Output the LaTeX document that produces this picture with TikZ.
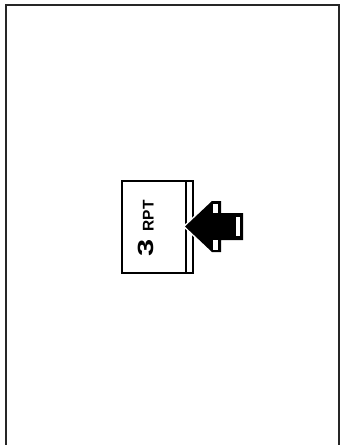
\documentclass[tikz,border=0pt]{standalone}
\usepackage{fontspec}
\setmainfont{Liberation Sans}
\begin{document}
\begin{tikzpicture}[x=1pt,y=1pt,
  frame/.style={draw=black!85,line width=1.6pt},
  panel/.style={draw=black,line width=1.3pt},
  arrowfill/.style={fill=black,draw=white,line width=3pt,line join=miter},
  slot/.style={fill=white,draw=none}]
\useasboundingbox (0,0) rectangle (340,-445);
% outer frame (open at bottom)
\draw[frame] (6,-445) -- (6,-5) -- (339,-5) -- (339,-445);
% panel
\node[panel,minimum width=71pt,minimum height=92pt,inner sep=0pt] (box) at (157.5,-227) {};
\coordinate (itop) at (186,-181);
\coordinate (ibot) at (186,-273);
\draw[panel,line width=1.1pt] (itop) -- (ibot);
% label
\node[rotate=90,inner sep=0pt,font=\bfseries] (lbl) at (146,-228.5)
  {\scalebox{1.4}[1]{\fontsize{22}{22}\selectfont 3}\hspace{8pt}{\fontsize{15.5}{15.5}\selectfont RPT}};
% arrow
\path[arrowfill] (185,-226.5) -- (212,-201) -- (221,-201) -- (221,-213) -- (243,-213)
  -- (243,-240) -- (221,-240) -- (221,-252) -- (212,-252) -- cycle;
\fill[black] (185,-226.5) -- (212,-201) -- (221,-201) -- (221,-213) -- (243,-213)
  -- (243,-240) -- (221,-240) -- (221,-252) -- (212,-252) -- cycle;
\fill[slot] (213,-203.5) rectangle (218,-213);
\fill[slot] (213,-240) rectangle (218,-249.5);
\fill[slot] (235.5,-217) rectangle (240,-236);
\end{tikzpicture}
\end{document}
